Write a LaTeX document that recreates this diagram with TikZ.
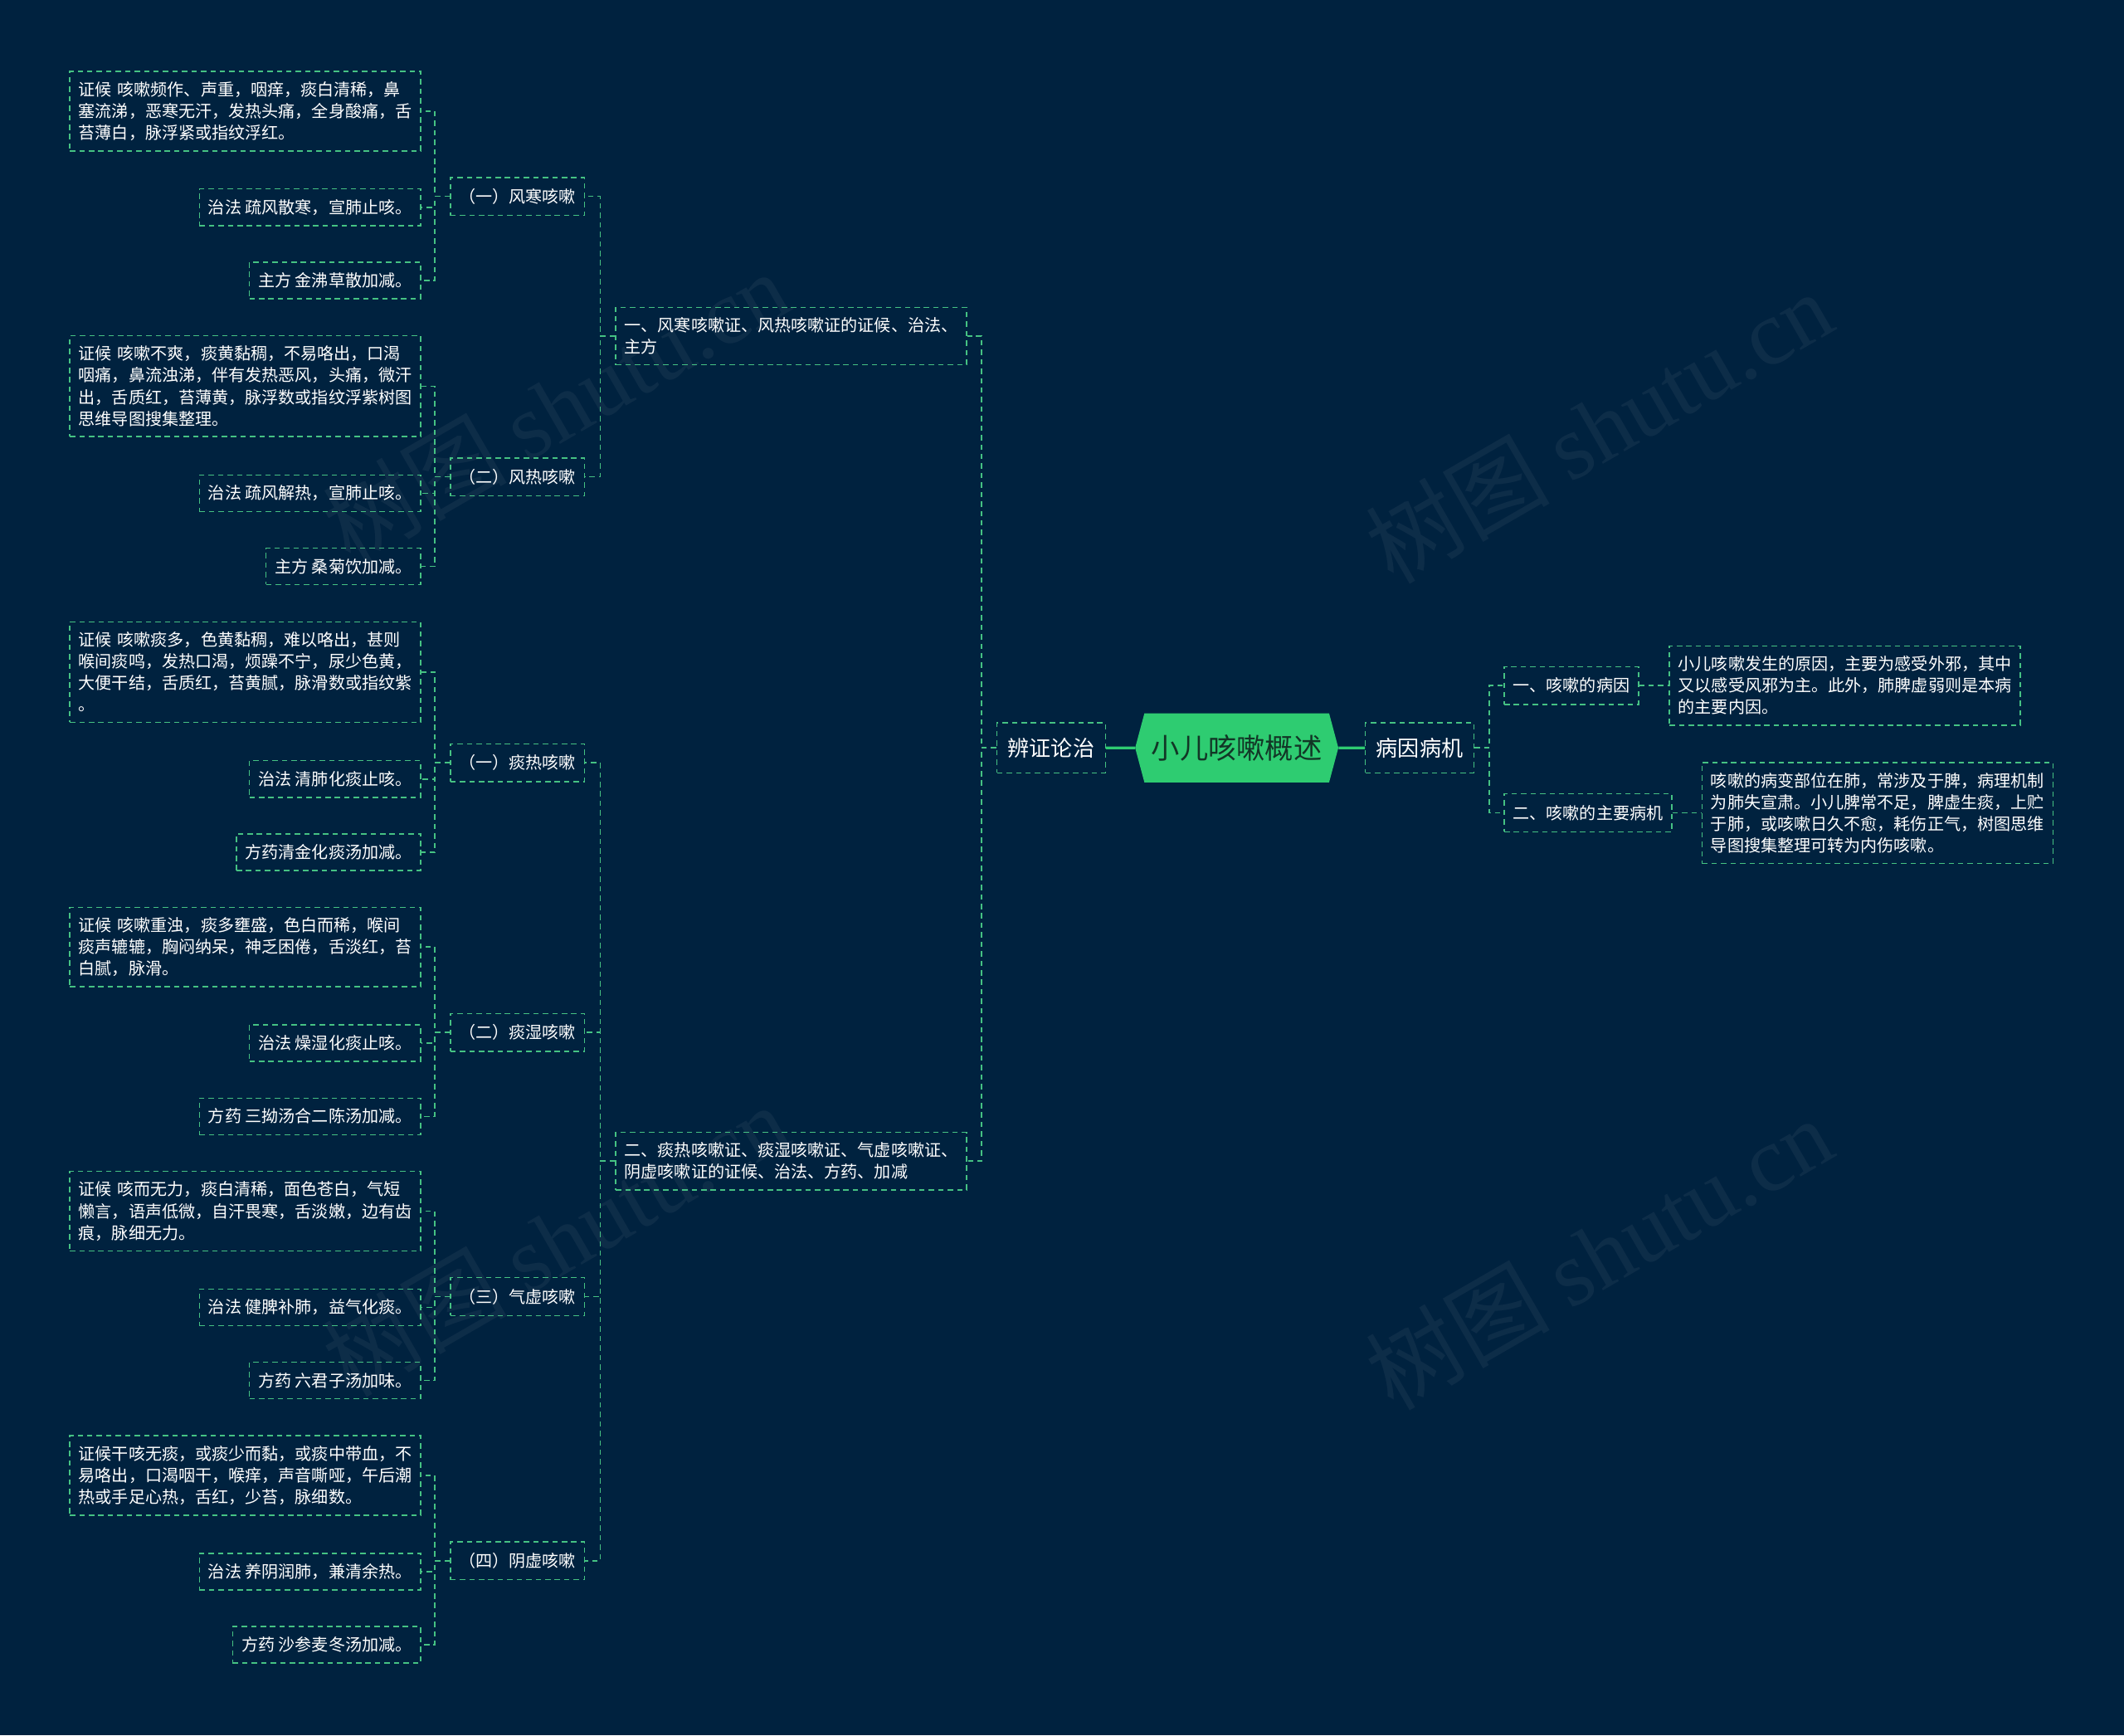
\documentclass[tikz,border=0pt]{standalone}
\usepackage{fontspec}
\setmainfont{Noto Sans CJK SC}
\newfontfamily\wmlatin{Liberation Serif}
\usetikzlibrary{positioning,shapes.symbols}
\definecolor{Night}{HTML}{00223F}
\definecolor{Leaf}{HTML}{2ECC71}
\definecolor{Rule}{HTML}{45C283}
\definecolor{Deep}{HTML}{123626}
\tikzset{
  box/.style={draw=Rule,line width=.9pt,dash pattern=on 4pt off 3pt,text=white,inner xsep=6.5pt,inner ysep=7.5pt,font=\fontsize{12.3}{16}\selectfont,align=left},
  root/.style={signal,signal to=west and east,signal pointer angle=150,fill=Leaf,draw=none,minimum width=150pt,minimum height=51pt,inner sep=0pt,text=Deep,font=\fontsize{21}{25}\selectfont},
  topic/.style={box,inner xsep=8pt,minimum height=37pt,font=\fontsize{16}{20}\selectfont},
  sub/.style={box,minimum height=28pt},
  leaf/.style={box,minimum height=27pt,anchor=east},
  note/.style={box,text width=246pt},
  link/.style={draw=Rule,line width=.9pt,dash pattern=on 4pt off 3pt},
  stem/.style={draw=Leaf,line width=2pt},
  wmark/.style={text=white,opacity=.05,rotate=30,font=\fontsize{68}{76}\selectfont}
}
\begin{document}
\begin{tikzpicture}[x=1pt,y=-1pt]
    \fill[Night] (0,0) rectangle (1568,1281);
    \useasboundingbox (0,0) rectangle (1568,1281);
    \node[wmark] (w1) at (410,300) {树图 {\wmlatin shutu.cn}};
    \node[wmark] (w2) at (410,915) {树图 {\wmlatin shutu.cn}};
    \node[wmark] (w3) at (1180,315) {树图 {\wmlatin shutu.cn}};
    \node[wmark] (w4) at (1180,925) {树图 {\wmlatin shutu.cn}};
    % centre
    \node[root] (root) at (913,552) {小儿咳嗽概述};
    \node[topic] (zhi) at (776,552) {辨证论治};
    \node[topic] (bing) at (1048,552) {病因病机};
    \draw[stem] (zhi) -- (root);
    \draw[stem] (root) -- (bing);
    % right side
    \node[sub,anchor=west] (r1) at (1110,506) {一、咳嗽的病因};
    \node[sub,anchor=west] (r2) at (1110,600) {二、咳嗽的主要病机};
    \node[note,anchor=west] (r1a) at (1232,506) {小儿咳嗽发生的原因，主要为感受外邪，其中\\又以感受风邪为主。此外，肺脾虚弱则是本病\\的主要内因。};
    \node[note,anchor=west] (r2a) at (1256,600) {咳嗽的病变部位在肺，常涉及于脾，病理机制\\为肺失宣肃。小儿脾常不足，脾虚生痰，上贮\\于肺，或咳嗽日久不愈，耗伤正气，树图思维\\导图搜集整理可转为内伤咳嗽。};
    \foreach \q in {r1,r2} \draw[link] (bing.east) -- ++(11,0) |- (\q.west);
    \draw[link] (r1) -- (r1a);
    \draw[link] (r2) -- (r2a);
    % left side
    \node[note,anchor=east] (sA) at (714,248) {一、风寒咳嗽证、风热咳嗽证的证候、治法、\\主方};
    \node[note,anchor=east] (sB) at (714,857) {二、痰热咳嗽证、痰湿咳嗽证、气虚咳嗽证、\\阴虚咳嗽证的证候、治法、方药、加减};
    \node[sub,anchor=east] (f1) at (432,145) {（一）风寒咳嗽};
    \node[sub,anchor=east] (f2) at (432,352) {（二）风热咳嗽};
    \node[sub,anchor=east] (t1) at (432,563) {（一）痰热咳嗽};
    \node[sub,anchor=east] (t2) at (432,762) {（二）痰湿咳嗽};
    \node[sub,anchor=east] (t3) at (432,957) {（三）气虚咳嗽};
    \node[sub,anchor=east] (t4) at (432,1152) {（四）阴虚咳嗽};
    \node[note,anchor=east] (f1a) at (311,82) {证候 咳嗽频作、声重，咽痒，痰白清稀，鼻\\塞流涕，恶寒无汗，发热头痛，全身酸痛，舌\\苔薄白，脉浮紧或指纹浮红。};
    \node[leaf] (f1b) at (311,153) {治法 疏风散寒，宣肺止咳。};
    \node[leaf] (f1c) at (311,207) {主方 金沸草散加减。};
    \node[note,anchor=east] (f2a) at (311,285) {证候 咳嗽不爽，痰黄黏稠，不易咯出，口渴\\咽痛，鼻流浊涕，伴有发热恶风，头痛，微汗\\出，舌质红，苔薄黄，脉浮数或指纹浮紫树图\\思维导图搜集整理。};
    \node[leaf] (f2b) at (311,364) {治法 疏风解热，宣肺止咳。};
    \node[leaf] (f2c) at (311,418) {主方 桑菊饮加减。};
    \node[note,anchor=east] (t1a) at (311,496) {证候 咳嗽痰多，色黄黏稠，难以咯出，甚则\\喉间痰鸣，发热口渴，烦躁不宁，尿少色黄，\\大便干结，舌质红，苔黄腻，脉滑数或指纹紫\\。};
    \node[leaf] (t1b) at (311,575) {治法 清肺化痰止咳。};
    \node[leaf] (t1c) at (311,629) {方药清金化痰汤加减。};
    \node[note,anchor=east] (t2a) at (311,699) {证候 咳嗽重浊，痰多壅盛，色白而稀，喉间\\痰声辘辘，胸闷纳呆，神乏困倦，舌淡红，苔\\白腻，脉滑。};
    \node[leaf] (t2b) at (311,770) {治法 燥湿化痰止咳。};
    \node[leaf] (t2c) at (311,824) {方药 三拗汤合二陈汤加减。};
    \node[note,anchor=east] (t3a) at (311,894) {证候 咳而无力，痰白清稀，面色苍白，气短\\懒言，语声低微，自汗畏寒，舌淡嫩，边有齿\\痕，脉细无力。};
    \node[leaf] (t3b) at (311,965) {治法 健脾补肺，益气化痰。};
    \node[leaf] (t3c) at (311,1019) {方药 六君子汤加味。};
    \node[note,anchor=east] (t4a) at (311,1089) {证候干咳无痰，或痰少而黏，或痰中带血，不\\易咯出，口渴咽干，喉痒，声音嘶哑，午后潮\\热或手足心热，舌红，少苔，脉细数。};
    \node[leaf] (t4b) at (311,1160) {治法 养阴润肺，兼清余热。};
    \node[leaf] (t4c) at (311,1214) {方药 沙参麦冬汤加减。};
    \foreach \q in {sA,sB} \draw[link] (zhi.west) -- ++(-11,0) |- (\q.east);
    \foreach \q in {f1,f2} \draw[link] (sA.west) -- ++(-11,0) |- (\q.east);
    \foreach \q in {t1,t2,t3,t4} \draw[link] (sB.west) -- ++(-11,0) |- (\q.east);
    \foreach \p in {f1,f2,t1,t2,t3,t4}
      \foreach \q in {a,b,c} \draw[link] (\p.west) -- ++(-11,0) |- (\p\q.east);
  \end{tikzpicture}
\end{document}
